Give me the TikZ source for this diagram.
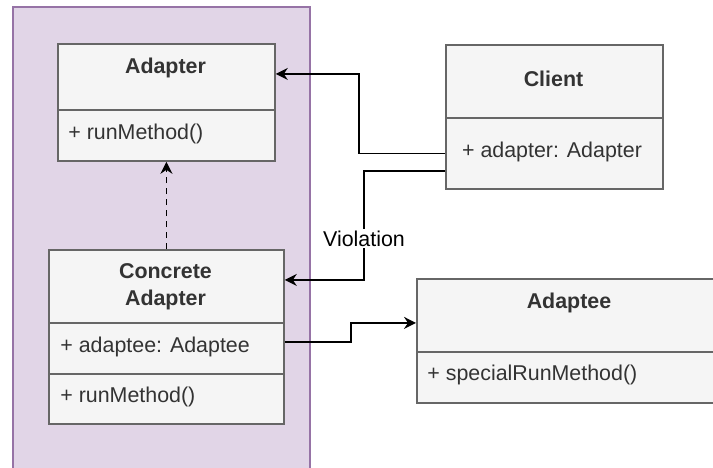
\documentclass[tikz,border=0pt]{standalone}
\usepackage{fontspec}
\setmainfont{Liberation Sans}
\usetikzlibrary{arrows.meta}
\definecolor{boxfill}{HTML}{F5F5F5}
\definecolor{boxline}{HTML}{666666}
\definecolor{txtgray}{HTML}{333333}
\definecolor{regionfill}{HTML}{E1D5E7}
\definecolor{regionline}{HTML}{9673A6}

\begin{document}
\begin{tikzpicture}
[x=0.5pt,y=-0.5pt,every node/.style={font=\fontsize{10.7}{13.5}\selectfont,text=txtgray}]
\tikzset{part/.style = {draw=boxline,fill=boxfill,line width=0.9pt,anchor=north west,inner sep=0pt}}
\tikzset{title/.style = {font=\fontsize{10.7}{13.5}\selectfont\bfseries,align=center}}
\tikzset{member/.style = {anchor=west,inner sep=0pt}}
\tikzset{edge/.style = {-{Stealth[length=6pt,width=6pt,inset=2pt]},line width=0.8pt,black}}
\tikzset{lbl/.style = {fill=white,text=black,inner sep=1pt}}
  \useasboundingbox (0,0) rectangle (713,467);
  \clip (0,0) rectangle (713,467);
  \filldraw[fill=regionfill,draw=regionline,line width=1pt] (13,7) rectangle (310,490);
  \node[part,minimum width=108.5pt,minimum height=33pt] (adapterH) at (57,43){};
  \node[part,minimum width=108.5pt,minimum height=25.5pt] (adapterR) at (57,109){};
  \node[part,minimum width=117.5pt,minimum height=36.5pt] (concH) at (48,249){};
  \node[part,minimum width=117.5pt,minimum height=25.5pt] (concR1) at (48,322){};
  \node[part,minimum width=117.5pt,minimum height=25pt] (concR2) at (48,373){};
  \node[part,minimum width=108.5pt,minimum height=36.5pt] (clientH) at (445,44){};
  \node[part,minimum width=108.5pt,minimum height=35.5pt] (clientR) at (445,117){};
  \node[part,minimum width=170pt,minimum height=36.5pt] (adapteeH) at (416,278){};
  \node[part,minimum width=170pt,minimum height=25.5pt] (adapteeR) at (416,351){};
  \node[title] (adapterT) at (165.5,68){Adapter};
  \node[member] (adapterM) at (68,134){+ runMethod()};
  \node[title] (concT) at (165.5,287){Concrete\\Adapter};
  \node[member] (concM1) at (60,347){+ adaptee: Adaptee};
  \node[member] (concM2) at (60,397){+ runMethod()};
  \node[title] (clientT) at (553.5,79){Client};
  \node (clientM) at (552,152){+ adapter: Adapter};
  \node[title] (adapteeT) at (569,303){Adaptee};
  \node[member] (adapteeM) at (427,375){+ specialRunMethod()};
  \draw[edge] (clientR.west) -- ++(-86,0) |- ([yshift=1.5pt]adapterH.east);
  \draw[edge] ([yshift=-8.75pt]clientR.west) -- ++(-81,0) |- node[lbl,pos=0.31]{Violation} ([yshift=3.25pt]concH.east);
  \draw[edge] ([yshift=3.25pt]concR1.east) -- ++(66,0) |- ([yshift=-3.75pt]adapteeH.west);
  \draw[edge,dashed,dash pattern=on 3pt off 2.5pt] (concH.north) -- (adapterR.south);
\end{tikzpicture}
\end{document}
